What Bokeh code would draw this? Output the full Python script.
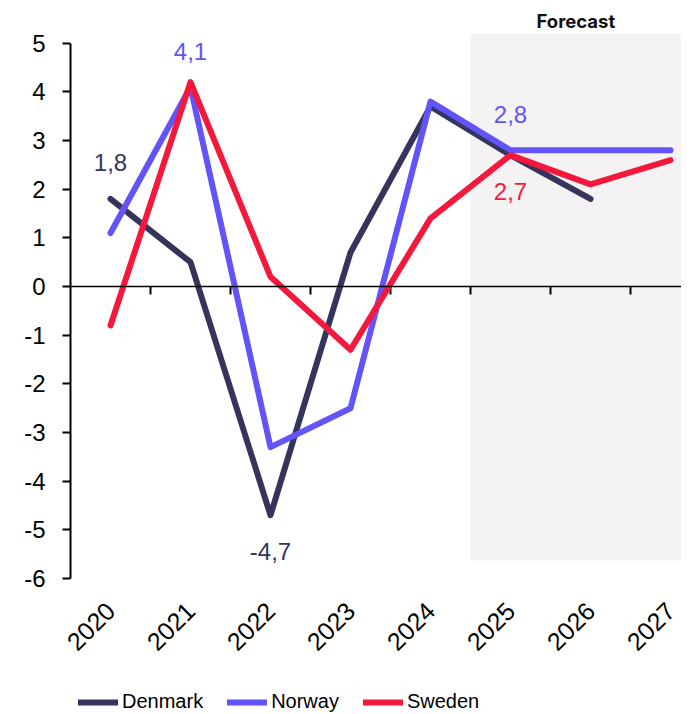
import math
import numpy as np
from bokeh.plotting import figure
from bokeh.layouts import column
from bokeh.models import (Range1d, LinearAxis, FixedTicker, BoxAnnotation, Label,
                          Legend, LegendItem, Span)
from bokeh.embed import file_html
from bokeh.resources import INLINE

years = ["2020", "2021", "2022", "2023", "2024", "2025", "2026", "2027"]
denmark = [1.8, 0.5, -4.7, 0.7, 3.7, 2.7, 1.8, np.nan]
norway = [1.1, 4.1, -3.3, -2.5, 3.8, 2.8, 2.8, 2.8]
sweden = [-0.8, 4.2, 0.2, -1.3, 1.4, 2.7, 2.1, 2.6]
y_ticks = [5, 4, 3, 2, 1, 0, -1, -2, -3, -4, -5, -6]
y_tick_labels = ["5", "4", "3", "2", "1", "0", "-1", "-2", "-3", "-4", "-5", "-6"]
forecast_start = "2025"

# data labels: (series, year, text, above?)
lab_series = ["Denmark", "Norway", "Denmark", "Norway", "Sweden"]
lab_years = ["2020", "2021", "2022", "2025", "2025"]
lab_texts = ["1,8", "4,1", "-4,7", "2,8", "2,7"]
lab_above = [True, True, False, True, False]

C_DK = "#34345c"
C_NO = "#6254f8"
C_SE = "#f4193c"
series = {"Denmark": (denmark, C_DK), "Norway": (norway, C_NO), "Sweden": (sweden, C_SE)}

FONT = "Liberation Sans"
xs = list(range(len(years)))
X_END = -0.5 + 611 / 80
Y0, Y1 = -6, 5.2
PX_PER_Y = 545 / (Y1 - Y0)

p = figure(frame_width=611, frame_height=545, output_backend="svg", toolbar_location=None,
           x_range=Range1d(-0.5, X_END), y_range=Range1d(Y0, Y1),
           min_border_left=70, min_border_right=0, min_border_top=33, min_border_bottom=110,
           x_axis_location=None, y_axis_location=None)
p.outline_line_color = None
p.grid.visible = False
p.background_fill_color = "white"

# "Forecast" as title above the shaded area
p.title.text = "Forecast"
p.title.text_font = "Inter"
p.title.text_font_style = "bold"
p.title.text_font_size = "18.5px"
p.title.text_color = "#111111"
p.title.align = "left"
p.title.offset = 466
p.title.standoff = 4

fs = years.index(forecast_start) - 0.5
p.add_layout(BoxAnnotation(left=fs, bottom=-5.63, fill_color="#f4f2f3", fill_alpha=1,
                           line_color=None, level="underlay"))

# zero line with tick marks at category boundaries
p.add_layout(Span(location=0, dimension="width", line_color="black", line_width=1.5))
bounds_x = [i - 0.5 for i in range(1, len(years))]
p.segment(x0=bounds_x, y0=[0] * len(bounds_x), x1=bounds_x,
          y1=[-8 / PX_PER_Y] * len(bounds_x), line_color="black", line_width=2)

# y axis
yax = LinearAxis(ticker=FixedTicker(ticks=y_ticks), bounds=(-6, 5),
                 major_label_overrides={t: l for t, l in zip(y_ticks, y_tick_labels)})
yax.axis_line_width = 2
yax.axis_line_color = "black"
yax.major_tick_line_width = 2
yax.major_tick_out = 8
yax.major_tick_in = 0
yax.minor_tick_line_color = None
yax.major_label_text_font = FONT
yax.major_label_text_font_size = "24px"
yax.major_label_text_color = "black"
yax.major_label_standoff = 17
p.add_layout(yax, "left")

# x labels axis
xlab = LinearAxis(ticker=FixedTicker(ticks=xs),
                  major_label_overrides={i: y for i, y in enumerate(years)})
xlab.axis_line_color = None
xlab.major_tick_line_color = None
xlab.minor_tick_line_color = None
xlab.major_label_orientation = math.pi / 4
xlab.major_label_text_font = FONT
xlab.major_label_text_font_size = "25px"
xlab.major_label_text_color = "black"
xlab.major_label_standoff = 22
p.add_layout(xlab, "below")

for name, (vals, col) in series.items():
    p.line(xs, vals, line_color=col, line_width=6, line_cap="round", line_join="round")

for s, yr, t, ab in zip(lab_series, lab_years, lab_texts, lab_above):
    vals, col = series[s]
    i = years.index(yr)
    p.add_layout(Label(x=i, y=vals[i], text=t, text_align="center", text_baseline="middle",
                       y_offset=36 if ab else -36, text_font=FONT, text_font_size="24px",
                       text_color=col))

# legend strip below the chart (its lines lie outside its own view, only the legend shows)
lg = figure(width=681, height=28, output_backend="svg", toolbar_location=None,
            x_range=Range1d(100, 101), y_range=Range1d(100, 101), min_border=0,
            x_axis_location=None, y_axis_location=None)
lg.outline_line_color = None
lg.grid.visible = False
items = []
for name, (vals, col) in series.items():
    r = lg.line(xs, vals, line_color=col, line_width=6, line_cap="round")
    items.append(LegendItem(label=name, renderers=[r]))

legend = Legend(items=items, orientation="horizontal", location=(8, 3))
legend.label_text_font = FONT
legend.label_text_font_size = "20px"
legend.label_text_color = "black"
legend.label_height = 20
legend.glyph_height = 20
legend.glyph_width = 40
legend.label_standoff = 4
legend.spacing = 24
legend.padding = 0
legend.margin = 0
legend.border_line_color = None
legend.background_fill_alpha = 0
lg.add_layout(legend, "center")

layout = column(p, lg, spacing=0)
open("out.html", "w").write(file_html(layout, INLINE))
